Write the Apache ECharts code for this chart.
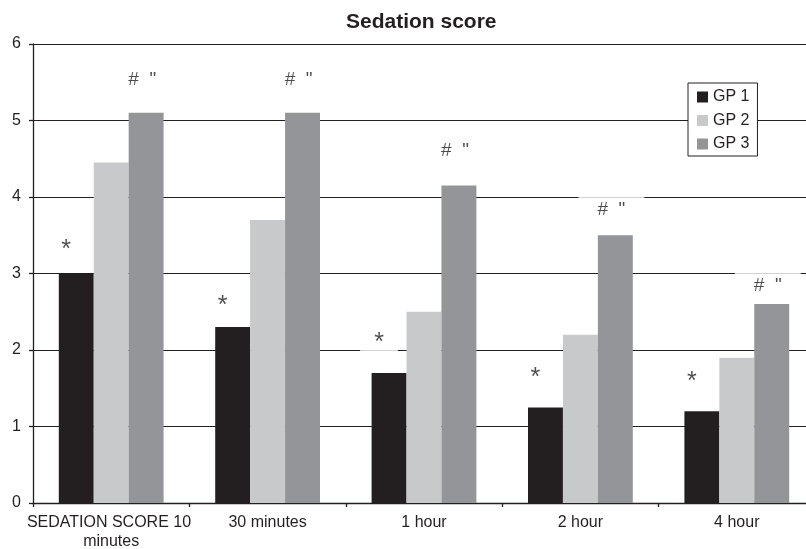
<!DOCTYPE html>
<html>
<head>
<meta charset="utf-8">
<script src="https://cdn.jsdelivr.net/npm/echarts@6/dist/echarts.min.js"></script>
<style>
html,body{margin:0;padding:0;background:#fff;}
#chart{width:806px;height:549px;}
</style>
</head>
<body>
<div id="chart"></div>
<script>
const categories = ['SEDATION SCORE 10 minutes', '30 minutes', '1 hour', '2 hour', '4 hour'];
const seriesNames = ['GP 1', 'GP 2', 'GP 3'];
const gp1 = [3.0, 2.3, 1.7, 1.25, 1.2];
const gp2 = [4.45, 3.7, 2.5, 2.2, 1.9];
const gp3 = [5.1, 5.1, 4.15, 3.5, 2.6];
// significance markers: heights (in score units) where they sit above GP 1 and GP 3
const starText = '*';
const starY = [3.35, 2.61, 2.13, 1.67, 1.62];
const hashText = '#  "';
const hashY = [5.49, 5.49, 4.57, 3.79, 2.80];
const yTicks = [0, 1, 2, 3, 4, 5, 6];

const FONT = '"Liberation Sans", Arial, sans-serif';
const INK = '#231f20';
const colors = ['#231f20', '#c8c9cb', '#939598'];

const chart = echarts.init(document.getElementById('chart'), null, {renderer: 'canvas'});

const barSeries = [gp1, gp2, gp3].map((vals, i) => ({
  name: seriesNames[i],
  type: 'bar',
  data: vals,
  barGap: '0%',
  barCategoryGap: '33%',
  itemStyle: {color: colors[i]},
  z: 2
}));

const option = {
  animation: false,
  backgroundColor: '#fff',
  title: {
    text: 'Sedation score',
    left: 346,
    top: 12,
    padding: 0,
    textStyle: {fontFamily: FONT, fontSize: 21, fontWeight: 'bold', color: INK, lineHeight: 21}
  },
  legend: {
    data: seriesNames,
    orient: 'vertical',
    left: 688,
    top: 83,
    padding: [6, 8, 4, 9],
    itemGap: 7.5,
    itemWidth: 11,
    itemHeight: 11,
    icon: 'rect',
    backgroundColor: '#fff',
    borderColor: INK,
    borderWidth: 1,
    borderRadius: 0,
    textStyle: {fontFamily: FONT, fontSize: 16, color: INK, lineHeight: 16},
    z: 10
  },
  grid: {left: 33, width: 782, top: 44, bottom: 46, containLabel: false, outerBoundsMode: 'none'},
  xAxis: {
    type: 'category',
    data: categories,
    boundaryGap: true,
    axisLine: {show: true, lineStyle: {color: INK, width: 1.3}},
    axisTick: {show: true, length: 4, alignWithLabel: false, lineStyle: {color: INK, width: 1.3}},
    axisLabel: {
      interval: 0,
      margin: 10,
      width: 170,
      overflow: 'break',
      fontFamily: FONT, fontSize: 16, color: INK, lineHeight: 19
    },
    splitLine: {show: false}
  },
  yAxis: {
    type: 'value',
    min: yTicks[0],
    max: yTicks[yTicks.length - 1],
    interval: 1,
    axisLine: {show: true, lineStyle: {color: INK, width: 1.3}},
    axisTick: {show: true, length: 4, lineStyle: {color: INK, width: 1.3}},
    axisLabel: {margin: 12, fontFamily: FONT, fontSize: 16, color: INK},
    splitLine: {show: true, lineStyle: {color: INK, width: 1.2}}
  },
  series: barSeries.concat([
    {
      name: 'starMarks',
      type: 'scatter',
      data: starY,
      symbol: 'circle',
      symbolSize: 0,
      itemStyle: {color: 'rgba(0,0,0,0)'},
      silent: true,
      z: 5,
      label: {
        show: true,
        position: 'inside',
        formatter: starText,
        offset: [-45, 3],
        fontFamily: FONT,
        fontSize: 25,
        lineHeight: 17,
        color: INK,
        backgroundColor: '#fff',
        padding: [4, 14, 4, 14]
      }
    },
    {
      name: 'hashMarks',
      type: 'scatter',
      data: hashY,
      symbol: 'circle',
      symbolSize: 0,
      itemStyle: {color: 'rgba(0,0,0,0)'},
      silent: true,
      z: 5,
      label: {
        show: true,
        position: 'inside',
        formatter: hashText,
        offset: [31, -3],
        fontFamily: FONT,
        fontSize: 19,
        lineHeight: 17,
        color: INK,
        backgroundColor: '#fff',
        padding: [10, 19, 4, 19]
      }
    }
  ])
};

chart.setOption(option);
</script>
</body>
</html>
